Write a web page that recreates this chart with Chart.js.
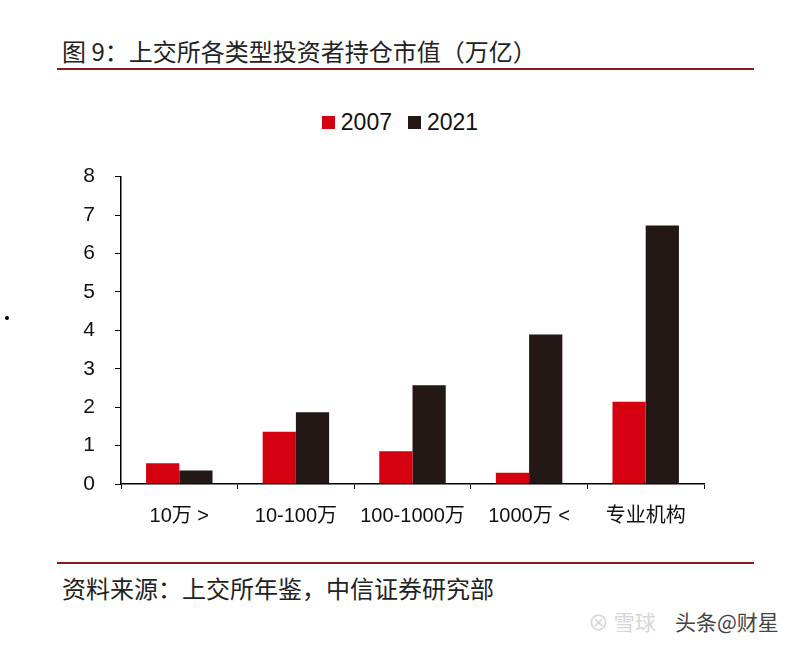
<!DOCTYPE html>
<html>
<head>
<meta charset="utf-8">
<script src="https://cdn.jsdelivr.net/npm/chart.js@4"></script>
<style>
    body { margin: 0; background: #fff; font-family: "Liberation Sans", "Noto Sans CJK SC", sans-serif; }
    #page { position: relative; width: 800px; height: 648px; overflow: hidden; background: #fff; }
    .title { position: absolute; left: 62px; top: 33px; font-size: 24px; color: #222; font-family: "Noto Sans CJK SC", sans-serif; }
    .rule { position: absolute; left: 57px; width: 697px; height: 2px; background: #8b1c1c; }
    .source { position: absolute; left: 62px; top: 570px; font-size: 24px; color: #222; font-family: "Noto Sans CJK SC", sans-serif; }
    #legend { position: absolute; left: 0; width: 800px; top: 109px; text-align: center; font-size: 23px; color: #111; }
    #legend span.item { display: inline-block; margin: 0 8px; }
    #legend i { display: inline-block; width: 13px; height: 13px; margin-right: 6px; vertical-align: 1px; }
    #wrap { position: absolute; left: 0; top: 144px; width: 800px; height: 396px; }
    .mark { position: absolute; font-family: "Noto Sans CJK SC", sans-serif; font-size: 21px; }
    .dot { position: absolute; left: 5px; top: 316px; width: 4px; height: 4px; border-radius: 2px; background: #000; }
</style>
</head>
<body>
<div id="page">
    <div class="title">图 9：上交所各类型投资者持仓市值（万亿）</div>
    <div class="rule" style="top: 68px;"></div>
    <div id="legend"></div>
    <div id="wrap"><canvas id="myChart" width="800" height="396"></canvas></div>
    <div class="rule" style="top: 562px;"></div>
    <div class="source">资料来源：上交所年鉴，中信证券研究部</div>
    <div class="mark" style="left: 588px; top: 606px; color: #d6d6d6;">⊗ 雪球</div>
    <div class="mark" style="left: 675px; top: 606px; color: #444;">头条@财星</div>
    <div class="dot"></div>
</div>
<script>
const categories = ['10万 >', '10-100万', '100-1000万', '1000万 <', '专业机构'];
const values2007 = [0.54, 1.36, 0.85, 0.29, 2.14];
const values2021 = [0.35, 1.87, 2.57, 3.89, 6.73];
const yTicks = [0, 1, 2, 3, 4, 5, 6, 7, 8];

const ctx = document.getElementById('myChart');

const chart = new Chart(ctx, {
    type: 'bar',
    data: {
        labels: categories,
        datasets: [{
            label: '2007',
            data: values2007,
            backgroundColor: '#d4000f'
        }, {
            label: '2021',
            data: values2021,
            backgroundColor: '#231815'
        }]
    },
    options: {
        responsive: false,
        animation: false,
        devicePixelRatio: 1,
        layout: {padding: {left: 65, right: 96, top: 20, bottom: 0}},
        plugins: {
            legend: {display: false},
            tooltip: {enabled: false}
        },
        datasets: {
            bar: {categoryPercentage: 0.57, barPercentage: 1}
        },
        scales: {
            x: {
                border: {color: '#000', width: 1.5},
                grid: {drawOnChartArea: false, drawTicks: true, tickLength: 5, color: '#000', offset: true},
                ticks: {color: '#111', padding: 15, maxRotation: 0, autoSkip: false, font: {size: 20, family: '"Liberation Sans", "Noto Sans CJK SC", sans-serif'}},
                afterFit: (scale) => { scale.height = 56; }
            },
            y: {
                min: 0,
                max: 8,
                afterBuildTicks: (scale) => { scale.ticks = yTicks.map(v => ({value: v})); },
                border: {color: '#000', width: 1.5},
                grid: {drawOnChartArea: false, drawTicks: true, tickLength: 6, color: '#000'},
                ticks: {color: '#111', padding: 20, font: {size: 21, family: '"Liberation Sans", sans-serif'}},
                afterFit: (scale) => { scale.width = 56; }
            }
        }
    }
});

// legend built from the datasets
const legend = document.getElementById('legend');
chart.data.datasets.forEach(ds => {
    const item = document.createElement('span');
    item.className = 'item';
    item.innerHTML = '<i style="background:' + ds.backgroundColor + '"></i>' + ds.label;
    legend.appendChild(item);
});
</script>
</body>
</html>
